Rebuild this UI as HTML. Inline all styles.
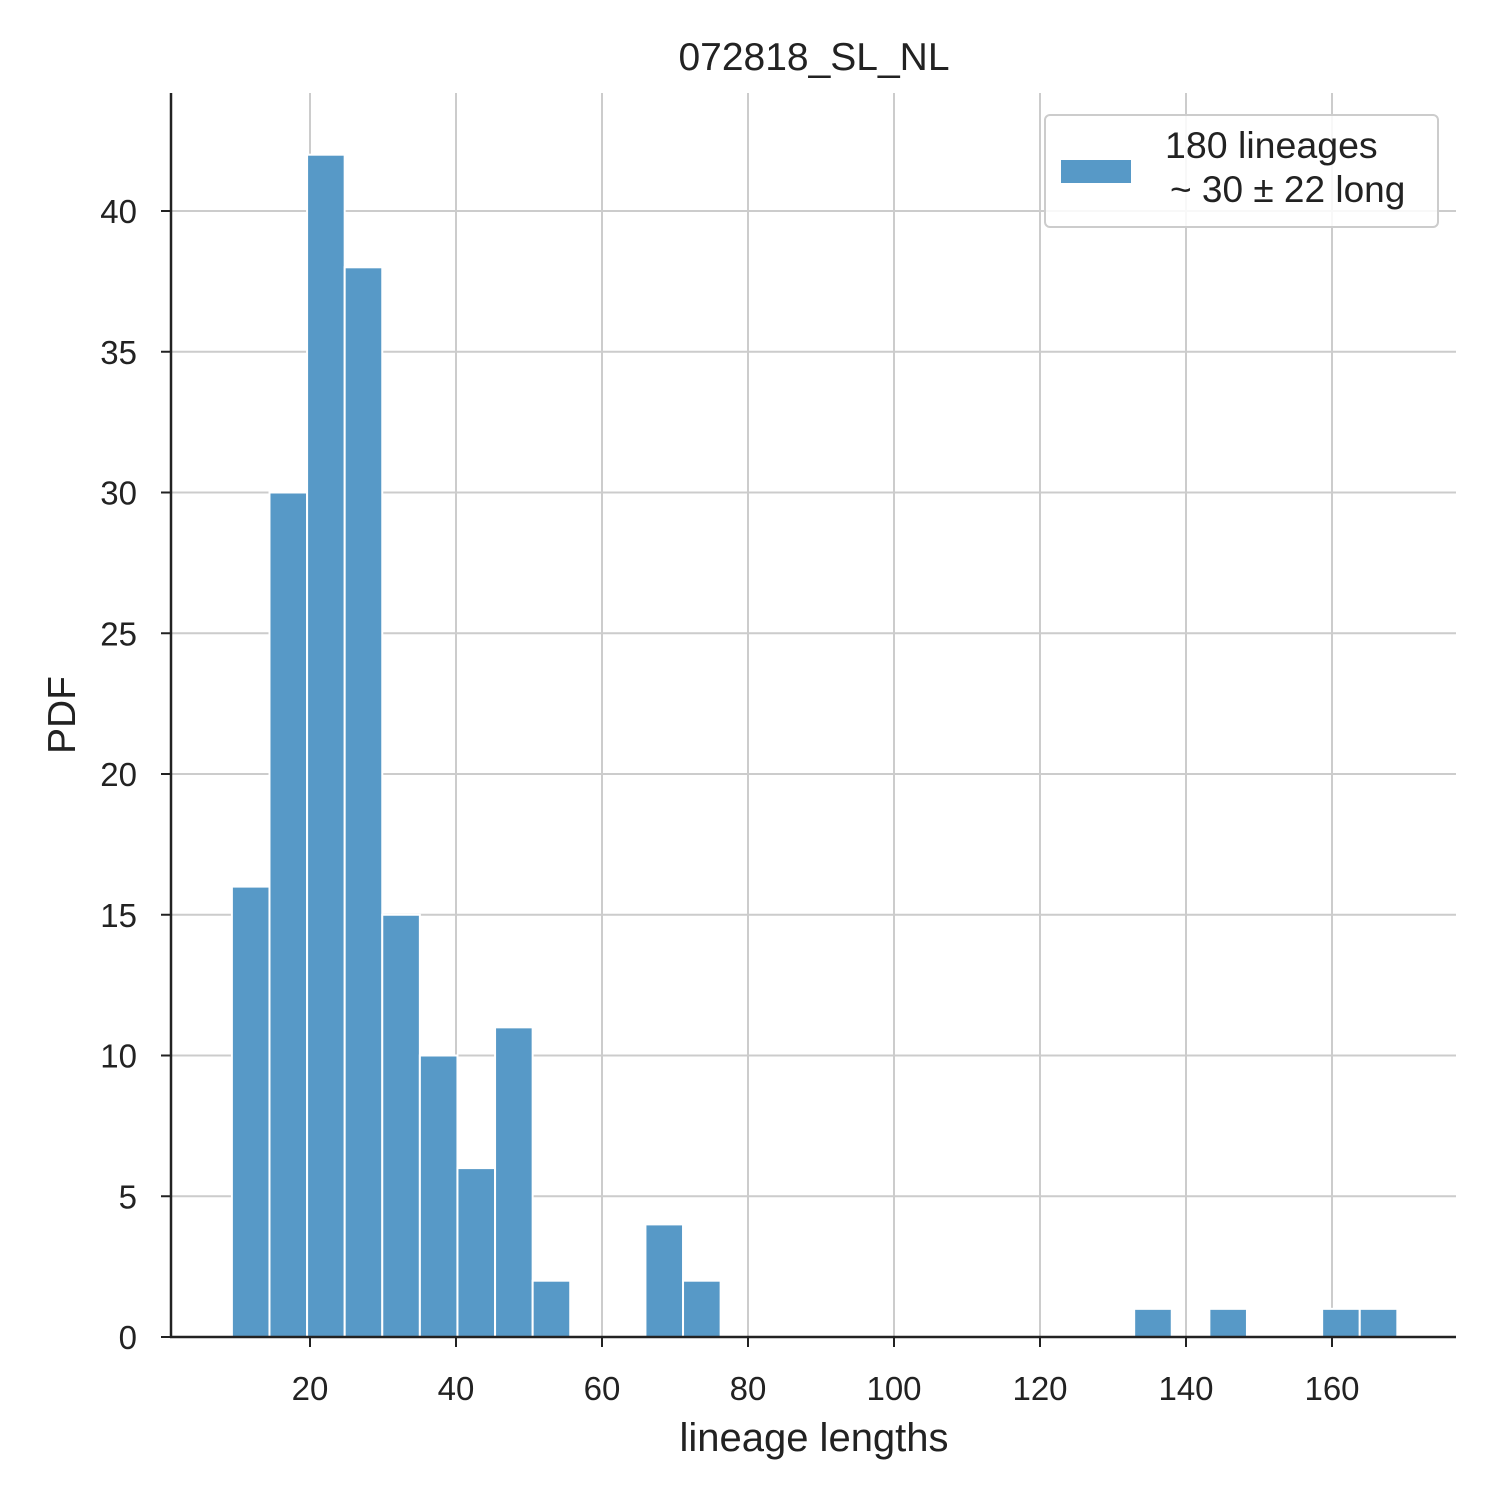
<!DOCTYPE html>
<html><head><meta charset="utf-8">
<style>
body{margin:0;background:#fff;}
svg{display:block;font-family:"Liberation Sans",Arial,sans-serif;}
</style></head>
<body>
<svg id="chart" width="1500" height="1500" viewBox="0 0 1500 1500">
<g id="grid"></g>
<g id="bars"></g>
<g id="axes"></g>
<text x="814" y="70" font-size="39" text-anchor="middle" fill="#222">072818_SL_NL</text>
<text x="814" y="1451" font-size="40" text-anchor="middle" fill="#222">lineage lengths</text>
<text transform="translate(75,715) rotate(-90)" font-size="39" text-anchor="middle" fill="#222">PDF</text>
<g>
<rect x="1045" y="115" width="393" height="112" rx="5" fill="#fff" fill-opacity="0.85" stroke="#ccc" stroke-width="2"/>
<rect x="1061" y="160" width="70" height="23" fill="rgb(87,153,199)"/>
<text x="1165" y="158" font-size="37.5" fill="#222">180 lineages</text>
<text x="1170" y="202" font-size="37" fill="#222">~ 30 ± 22 long</text>
</g>
</svg>
<script>
const binStart = 9.3;
const binWidth = 5.15;
const counts = [16,30,42,38,15,10,6,11,2,0,0,4,2,0,0,0,0,0,0,0,0,0,0,0,1,0,1,0,0,1,1];
const xTicks = [20,40,60,80,100,120,140,160];
const yTicks = [0,5,10,15,20,25,30,35,40];

const X0=164, XS=7.3, Y0=1337, YS=28.15;
const L=171, R=1456, T=93, B=1337;
const xs=v=>X0+v*XS, ys=v=>Y0-v*YS;
const NS="http://www.w3.org/2000/svg";
function mk(tag,attrs,parent){const e=document.createElementNS(NS,tag);for(const k in attrs)e.setAttribute(k,attrs[k]);parent.appendChild(e);return e;}
const grid=document.getElementById('grid'),bars=document.getElementById('bars'),axes=document.getElementById('axes');

xTicks.forEach(t=>{
  const g=mk('line',{x1:xs(t),x2:xs(t),y1:T,y2:B,stroke:'#cccccc','stroke-width':2},grid);
  
  
  const tk=mk('line',{x1:xs(t),x2:xs(t),y1:B,y2:B+10,stroke:'#222','stroke-width':2},axes);
  
  
  const lb=mk('text',{x:xs(t),y:1400,'font-size':33,'text-anchor':'middle',fill:'#222'},axes);
  lb.textContent=t;
  
  
});
yTicks.forEach(t=>{
  const g=mk('line',{x1:L,x2:R,y1:ys(t),y2:ys(t),stroke:'#cccccc','stroke-width':2},grid);
  
  
  const tk=mk('line',{x1:L-10,x2:L,y1:ys(t),y2:ys(t),stroke:'#222','stroke-width':2},axes);
  
  
  const lb=mk('text',{x:137,y:ys(t)+12,'font-size':33,'text-anchor':'end',fill:'#222'},axes);
  lb.textContent=t;
  
  
});
counts.forEach((c,i)=>{
  if(c<=0)return;
  const x1=xs(binStart+i*binWidth),x2=xs(binStart+(i+1)*binWidth);
  const r=mk('rect',{x:x1,y:ys(c),width:x2-x1,height:ys(0)-ys(c),fill:'rgb(87,153,199)',stroke:'#fff','stroke-width':2},bars);
  
  
});
const ls=mk('line',{x1:L,x2:L,y1:T,y2:B+1,stroke:'#222','stroke-width':2.5},axes);


const bs=mk('line',{x1:L-1,x2:R,y1:B,y2:B,stroke:'#222','stroke-width':2.5},axes);


</script>
</body></html>
